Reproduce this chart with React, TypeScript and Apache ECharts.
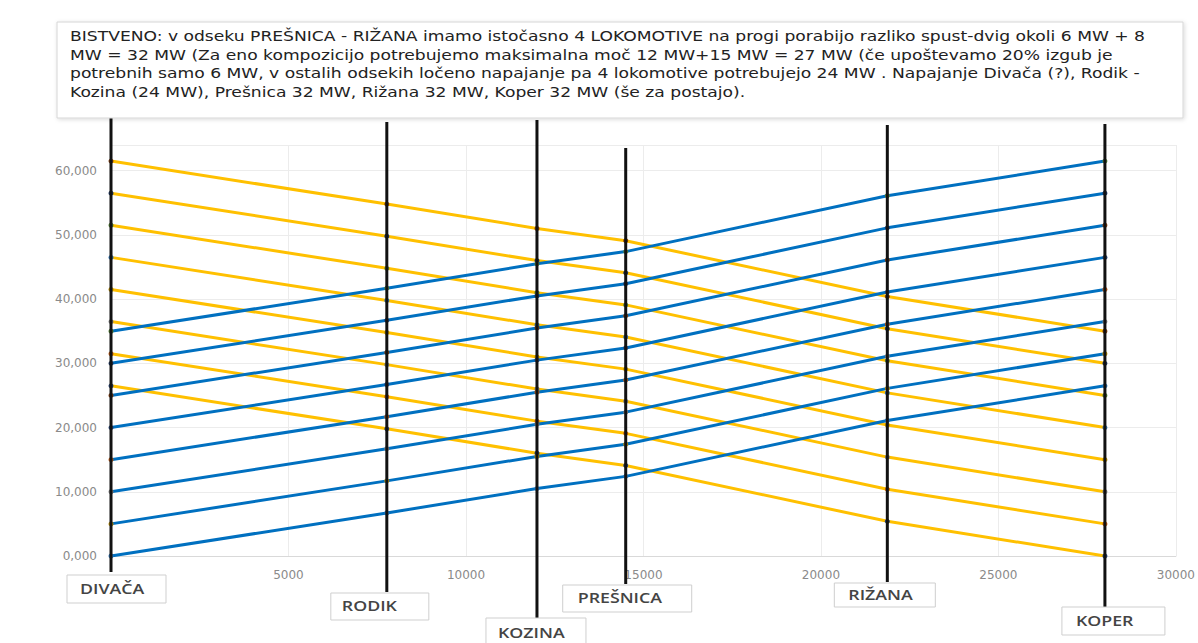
import React, { useEffect, useRef } from "react";
import * as echarts from "echarts";

// ---- data ----
const stationNames = ["DIVAČA", "RODIK", "KOZINA", "PREŠNICA", "RIŽANA", "KOPER"];
const stationX = [0, 7770, 12000, 14500, 21870, 28000];

const orangeSeries: number[][] = [
  [61500, 54800, 51000, 49100, 40400, 35000],
  [56500, 49800, 46000, 44100, 35400, 30000],
  [51500, 44800, 41000, 39100, 30400, 25000],
  [46500, 39800, 36000, 34100, 25400, 20000],
  [41500, 34800, 31000, 29100, 20400, 15000],
  [36500, 29800, 26000, 24100, 15400, 10000],
  [31500, 24800, 21000, 19100, 10400, 5000],
  [26500, 19800, 16000, 14100, 5400, 0],
];
const blueSeries: number[][] = [
  [0, 6700, 10500, 12400, 21100, 26500],
  [5000, 11700, 15500, 17400, 26100, 31500],
  [10000, 16700, 20500, 22400, 31100, 36500],
  [15000, 21700, 25500, 27400, 36100, 41500],
  [20000, 26700, 30500, 32400, 41100, 46500],
  [25000, 31700, 35500, 37400, 46100, 51500],
  [30000, 36700, 40500, 42400, 51100, 56500],
  [35000, 41700, 45500, 47400, 56100, 61500],
];

const noteLines = [
  "BISTVENO: v odseku PREŠNICA - RIŽANA imamo istočasno 4 LOKOMOTIVE na progi porabijo razliko spust-dvig okoli 6 MW + 8",
  "MW = 32 MW (Za eno kompozicijo potrebujemo maksimalna moč 12 MW+15 MW = 27 MW (če upoštevamo 20% izgub je",
  "potrebnih samo 6 MW, v ostalih odsekih ločeno napajanje pa 4 lokomotive potrebujejo 24 MW . Napajanje Divača (?), Rodik -",
  "Kozina (24 MW), Prešnica 32 MW, Rižana 32 MW, Koper 32 MW (še za postajo).",
];

// ---- layout (pixels) ----
const lineTop = [117, 122, 120, 148, 125, 124];
const lineBottom = [572, 592, 620, 584, 582, 607];
const boxDx = [-44, -56, -51, -63, -53, -43];
const boxTop = [575, 593, 618, 585, 583, 607];
const boxW = [99, 98, 100, 129, 101, 103];
const boxH = [28, 27, 30, 27, 24, 28];
const textDx = [-31, -45, -39, -48, -39, -29];
const textY = [589, 606, 633, 598, 595, 621];

const markerColors = ["#843C0C", "#1F3864", "#548235", "#2E75B6", "#BF9000", "#7F7F7F", "#C55A11", "#264478"];

export default function App() {
  const ref = useRef<HTMLDivElement>(null);
  useEffect(() => {
    if (!ref.current) return;
    const chart = echarts.init(ref.current, null, { renderer: "svg" });

    const lineSeries: any[] = [];
    orangeSeries.forEach((vals, i) => {
      lineSeries.push({
        type: "line",
        data: vals.map((v, j) => [stationX[j], v]),
        symbol: "circle",
        symbolSize: 5,
        itemStyle: { color: markerColors[i % markerColors.length] },
        lineStyle: { color: "#FFC000", width: 3 },
        z: 2,
      });
    });
    blueSeries.forEach((vals, i) => {
      lineSeries.push({
        type: "line",
        data: vals.map((v, j) => [stationX[j], v]),
        symbol: "circle",
        symbolSize: 5,
        itemStyle: { color: markerColors[(i + 3) % markerColors.length] },
        lineStyle: { color: "#0070C0", width: 3 },
        z: 3,
      });
    });

    const stationSeries = {
      type: "custom",
      clip: false,
      z: 5,
      data: stationX.map((x, i) => [x, i]),
      renderItem: (params: any, api: any) => {
        const i = api.value(1);
        const px = api.coord([api.value(0), 0])[0];
        return {
          type: "group",
          children: [
            {
              type: "line",
              shape: { x1: px, y1: lineTop[i], x2: px, y2: lineBottom[i] },
              style: { stroke: "#111", lineWidth: 3 },
            },
            {
              type: "rect",
              shape: { x: px + boxDx[i], y: boxTop[i], width: boxW[i], height: boxH[i] },
              style: { fill: "#fff", stroke: "#cfcfcf", lineWidth: 1 },
            },
            {
              type: "text",
              x: px + textDx[i],
              y: textY[i],
              scaleX: 1.27,
              style: {
                text: stationNames[i],
                fill: "#444",
                font: "600 14px 'Open Sans'",
                textVerticalAlign: "middle",
                textAlign: "left",
              },
            },
          ],
        };
      },
    };

    chart.setOption({
      animation: false,
      backgroundColor: "#fff",
      grid: { left: 111, right: 21, top: 145, bottom: 87, containLabel: false },
      xAxis: {
        type: "value",
        min: 0,
        max: 30000,
        interval: 5000,
        axisLine: { show: true, lineStyle: { color: "#d9d9d9" } },
        axisTick: { show: false },
        splitLine: { show: true, lineStyle: { color: "#ececec" } },
        axisLabel: {
          margin: 13,
          color: "#8a8a8a",
          fontSize: 12,
          fontFamily: "DejaVu Sans",
          formatter: (v: number) => (v === 0 ? "" : String(v)),
        },
      },
      yAxis: {
        type: "value",
        min: 0,
        max: 64000,
        interval: 10000,
        axisLine: { show: false },
        axisTick: { show: false },
        splitLine: { show: true, lineStyle: { color: "#ececec" } },
        axisLabel: {
          margin: 14,
          color: "#8a8a8a",
          fontSize: 12,
          fontFamily: "DejaVu Sans",
          formatter: (v: number) => (v % 10000 === 0 ? v / 1000 + ",000" : ""),
        },
      },
      graphic: [
        {
          type: "rect",
          shape: { x: 57, y: 22, width: 1126, height: 96 },
          style: {
            fill: "#fff",
            stroke: "#d6d6d6",
            lineWidth: 1,
            shadowBlur: 4,
            shadowColor: "rgba(0,0,0,0.15)",
            shadowOffsetX: 1,
            shadowOffsetY: 1,
          },
          z: 10,
        },
        ...noteLines.map((t, i) => ({
          type: "text",
          x: 70,
          y: 37 + i * 18.5,
          scaleX: 1.27,
          z: 11,
          style: {
            text: t,
            fill: "#222",
            font: "13.5px 'DejaVu Sans'",
            textVerticalAlign: "middle",
          },
        })),
      ],
      series: [...lineSeries, stationSeries],
    });
    return () => chart.dispose();
  }, []);
  return (
    <div
      ref={ref}
      style={{ position: "fixed", left: 0, top: 0, width: 1198, height: 643 }}
    />
  );
}
